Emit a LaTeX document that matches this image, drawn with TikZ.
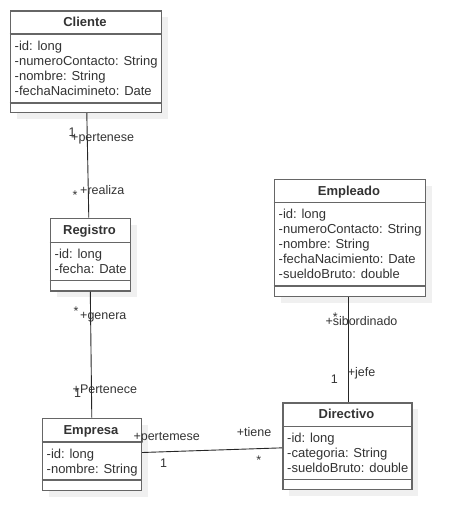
\documentclass[tikz,border=0pt]{standalone}
\usepackage{fontspec}
\setmainfont{Liberation Sans}
\usetikzlibrary{calc}
\definecolor{boxline}{HTML}{666666}
\definecolor{shadowc}{HTML}{F0F0F0}
\definecolor{txt}{HTML}{333333}
\newcommand\umlclass[9]{%
  \fill[shadowc] (#2+7,#3+7) rectangle (#4+7,#5+7);
  \node[classbox, minimum width={(#4-#2)*1pt}, minimum height={(#5-#3)*1pt}, anchor=north west] (#1) at (#2,#3) {};
  \draw[boxsep] (#2,#6) -- (#4,#6);
  \draw[boxsep] (#2,#7) -- (#4,#7);
  \node[classtitle] (#1-t) at ({(#2+#4)/2},{(#3+#6)/2+4.6}) {#8};
  \node[classattrs] (#1-a) at (#2+5,#6+6.8) {#9};
}
\begin{document}
\begin{tikzpicture}[x=1pt,y=-1pt,
  classbox/.style={draw=boxline, line width=1.6pt, fill=white, inner sep=0pt},
  boxsep/.style={draw=boxline, line width=1.6pt},
  classtitle/.style={anchor=base, inner sep=0pt, text=txt, font=\fontsize{13}{15}\selectfont\bfseries},
  classattrs/.style={anchor=north west, inner sep=0pt, align=left, text=txt, font=\fontsize{13}{15}\selectfont},
  assoc/.style={draw=black!85, line width=0.9pt},
  lbl/.style={inner sep=0pt, text=txt, font=\fontsize{12.5}{15}\selectfont},
]
\useasboundingbox (0,0) rectangle (464,530);

\umlclass{cliente}{9.5}{10}{160.5}{111.5}{34}{103}{Cliente}{-id: long\\-numeroContacto: String\\-nombre: String\\-fechaNacimineto: Date}
\umlclass{registro}{49.5}{217.5}{129.5}{290}{242.5}{280.5}{Registro}{-id: long\\-fecha: Date}
\umlclass{empresa}{41.5}{417.5}{140.5}{489.5}{442}{480}{Empresa}{-id: long\\-nombre: String}
\umlclass{empleado}{273.5}{178.5}{424.5}{295.5}{202.5}{286}{Empleado}{-id: long\\-numeroContacto: String\\-nombre: String\\-fechaNacimiento: Date\\-sueldoBruto: double}
\umlclass{directivo}{282}{402}{411}{488.5}{426.5}{479.5}{Directivo}{-id: long\\-categoria: String\\-sueldoBruto: double}

% connectors
\draw[assoc] ($(cliente.south)+(1,0)$) -- ($(registro.north)+(-1.5,0)$);
\draw[assoc] (registro.south) -- (empresa.north);
\draw[assoc] ($(empleado.south)+(-1.3,0)$) -- ($(directivo.north)+(1.2,0)$);
\draw[assoc] ($(empresa.east)+(0,-1.8)$) -- ($(directivo.west)+(0,1.8)$);

% labels Cliente-Registro
\node[lbl, anchor=base] (l1) at (72,136.5) {1};
\node[lbl, anchor=base west] (l2) at (71,141) {+pertenese};
\node[lbl, anchor=base] (l3) at (75,199) {*};
\node[lbl, anchor=base west] (l4) at (80,194) {+realiza};
% labels Registro-Empresa
\node[lbl, anchor=base] (l5) at (76,315) {*};
\node[lbl, anchor=base west] (l6) at (80,319.5) {+genera};
\node[lbl, anchor=base west] (l7) at (72.5,393.5) {+Pertenece};
\node[lbl, anchor=base] (l8) at (77.7,397) {1};
% labels Empresa-Directivo
\node[lbl, anchor=base west] (l9) at (133.3,440.5) {+pertemese};
\node[lbl, anchor=base] (l10) at (163.7,467) {1};
\node[lbl, anchor=base west] (l11) at (236.7,436.5) {+tiene};
\node[lbl, anchor=base] (l12) at (258.7,464) {*};
% labels Empleado-Directivo
\node[lbl, anchor=base] (l13) at (335.3,321) {*};
\node[lbl, anchor=base west] (l14) at (325.3,325.5) {+sibordinado};
\node[lbl, anchor=base] (l15) at (334.3,383) {1};
\node[lbl, anchor=base west] (l16) at (347.7,376.5) {+jefe};
\end{tikzpicture}
\end{document}
